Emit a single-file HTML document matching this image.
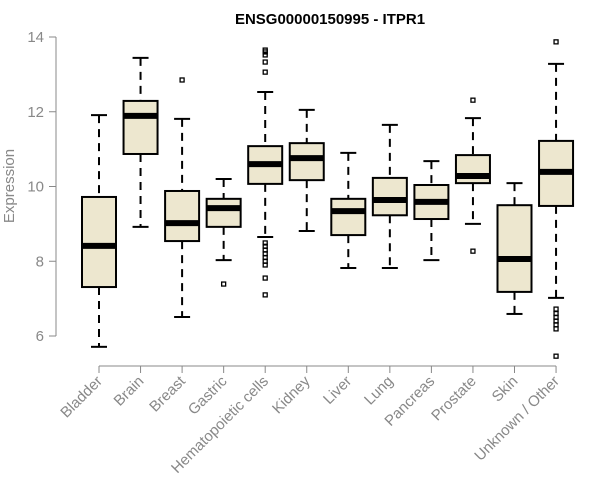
<!DOCTYPE html>
<html><head><meta charset="utf-8"><style>body{margin:0;background:#fff}svg{display:block;font-family:"Liberation Sans",sans-serif}</style></head>
<body>
<svg id="chart" width="600" height="500">
<text x="330" y="24" text-anchor="middle" font-weight="bold" font-size="15">ENSG00000150995 - ITPR1</text>
<text x="14" y="186" text-anchor="middle" font-size="15" fill="#888" transform="rotate(-90 14 186)">Expression</text>
<g id="axes"></g><g id="boxes"></g>
</svg>
<script>
const categories=["Bladder","Brain","Breast","Gastric","Hematopoietic cells","Kidney","Liver","Lung","Pancreas","Prostate","Skin","Unknown / Other"];
const whiskerLow=[5.71,8.92,6.51,8.03,8.65,8.81,7.82,7.82,8.03,9.0,6.59,7.02];
const q1=[7.31,10.87,8.54,8.92,10.07,10.17,8.7,9.23,9.13,10.09,7.18,9.48];
const medians=[8.41,11.89,9.02,9.42,10.6,10.76,9.34,9.64,9.59,10.28,8.06,10.39];
const q3=[9.72,12.29,9.88,9.67,11.08,11.16,9.67,10.23,10.04,10.84,9.5,11.22];
const whiskerHigh=[11.91,13.44,11.81,10.2,12.53,12.05,10.9,11.65,10.68,11.83,10.09,13.28];
const outliers=[[],[],[12.85],[7.39],[13.65,13.6,13.52,13.33,13.06,8.49,8.4,8.3,8.2,8.1,8.0,7.9,7.55,7.1],[],[],[],[],[12.31,8.27],[],[13.87,6.72,6.6,6.5,6.4,6.3,6.19,5.46]];
const yTicks=[6,8,10,12,14];
const NS="http://www.w3.org/2000/svg";
const y=v=>336-(v-6)*37.375;
const x=i=>99+i*41.55;
function mk(t,a,p){const e=document.createElementNS(NS,t);for(const k in a)e.setAttribute(k,a[k]);p.appendChild(e);return e;}
const ax=document.getElementById('axes'),bx=document.getElementById('boxes');
const yl=mk('line',{x1:56,x2:56,y1:y(6),y2:y(14),stroke:'#888'},ax);


yTicks.forEach(t=>{
 const tk=mk('line',{x1:49,x2:56,y1:y(t),y2:y(t),stroke:'#888'},ax);
 
 
 const tl=mk('text',{x:44,y:y(t)+5,'text-anchor':'end','font-size':15,fill:'#888'},ax);tl.textContent=t;
 
 
});
const xl=mk('line',{x1:x(0),x2:x(11),y1:366,y2:366,stroke:'#888'},ax);


categories.forEach((c,i)=>{
 const cx=x(i),h=17;
 const tk=mk('line',{x1:cx,x2:cx,y1:366,y2:373,stroke:'#888'},ax);
 
 
 const tl=mk('text',{x:cx+4,y:382,'text-anchor':'end','font-size':15,fill:'#888',transform:`rotate(-45 ${cx+4} 382)`},ax);tl.textContent=c;
 
 
 const g=mk('g',{},bx);
 
 
 mk('line',{x1:cx,x2:cx,y1:y(whiskerHigh[i]),y2:y(q3[i]),stroke:'#000','stroke-width':2,'stroke-dasharray':'8,6'},g);
 mk('line',{x1:cx,x2:cx,y1:y(q1[i]),y2:y(whiskerLow[i]),stroke:'#000','stroke-width':2,'stroke-dasharray':'8,6'},g);
 mk('line',{x1:cx-8,x2:cx+8,y1:y(whiskerHigh[i]),y2:y(whiskerHigh[i]),stroke:'#000','stroke-width':2},g);
 mk('line',{x1:cx-8,x2:cx+8,y1:y(whiskerLow[i]),y2:y(whiskerLow[i]),stroke:'#000','stroke-width':2},g);
 mk('rect',{x:cx-h,y:y(q3[i]),width:2*h,height:y(q1[i])-y(q3[i]),fill:'#ede7cf',stroke:'#000','stroke-width':2},g);
 mk('line',{x1:cx-h,x2:cx+h,y1:y(medians[i]),y2:y(medians[i]),stroke:'#000','stroke-width':6},g);
 outliers[i].forEach(o=>{mk('rect',{x:cx-2,y:y(o)-2,width:4,height:4,fill:'none',stroke:'#000','stroke-width':1.3},g);});
});
</script>
</body></html>
